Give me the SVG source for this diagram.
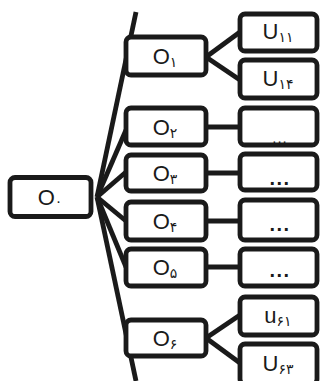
<svg xmlns="http://www.w3.org/2000/svg" width="321" height="381" viewBox="0 0 321 381">
<style>
.b{fill:#fff;stroke:#1a1a1a;stroke-width:4.8}
.c line{stroke:#1a1a1a;stroke-width:4.8;stroke-linecap:butt}
.t{font-family:"Liberation Sans","DejaVu Sans",sans-serif;font-size:22px;fill:#1a1a1a;text-anchor:middle}
.s{font-family:"DejaVu Sans",sans-serif;font-size:14px}
.d{font-family:"Liberation Sans",sans-serif;font-size:20px;fill:#1a1a1a;text-anchor:middle;font-weight:bold;letter-spacing:1.5px}
</style>
<rect width="321" height="381" fill="#fff"/>
<g class="c" id="connectors">
<line x1="97" y1="197" x2="136" y2="12"/>
<line x1="97" y1="197" x2="136" y2="381"/>
<line x1="97" y1="197" x2="126" y2="130"/>
<line x1="97" y1="197" x2="126" y2="172"/>
<line x1="97" y1="197" x2="126" y2="221"/>
<line x1="97" y1="197" x2="126" y2="267"/>
<line x1="206" y1="57" x2="240" y2="32"/>
<line x1="206" y1="57" x2="240" y2="80"/>
<line x1="206" y1="127" x2="240" y2="127"/>
<line x1="206" y1="173" x2="240" y2="173"/>
<line x1="206" y1="221" x2="240" y2="221"/>
<line x1="206" y1="267" x2="240" y2="267"/>
<line x1="206" y1="338" x2="240" y2="315"/>
<line x1="206" y1="338" x2="240" y2="363"/>
</g>
<g id="O0"><rect class="b" x="10" y="177.5" width="81" height="39" rx="5"/><text class="t" x="50" y="205">O<tspan class="s" dy="1">۰</tspan></text></g>
<g id="O1"><rect class="b" x="126" y="37" width="80" height="38" rx="5"/><text class="t" x="165" y="64">O<tspan class="s" dy="3">۱</tspan></text></g>
<g id="O2"><rect class="b" x="126" y="108" width="80" height="37" rx="5"/><text class="t" x="165" y="135">O<tspan class="s" dy="3">۲</tspan></text></g>
<g id="O3"><rect class="b" x="126" y="155" width="80" height="36" rx="5"/><text class="t" x="165" y="181">O<tspan class="s" dy="3">۳</tspan></text></g>
<g id="O4"><rect class="b" x="126" y="202" width="80" height="38" rx="5"/><text class="t" x="165" y="229">O<tspan class="s" dy="3">۴</tspan></text></g>
<g id="O5"><rect class="b" x="126" y="249" width="80" height="37" rx="5"/><text class="t" x="165" y="275">O<tspan class="s" dy="3">۵</tspan></text></g>
<g id="O6"><rect class="b" x="126" y="320" width="80" height="36" rx="5"/><text class="t" x="165" y="346">O<tspan class="s" dy="3">۶</tspan></text></g>
<g id="U11"><rect class="b" x="240" y="14" width="77" height="37" rx="5"/><text class="t" x="278" y="39">U<tspan class="s" dy="3">۱۱</tspan></text></g>
<g id="U14"><rect class="b" x="240" y="60" width="77" height="38" rx="5"/><text class="t" x="278" y="86">U<tspan class="s" dy="3">۱۴</tspan></text></g>
<g id="D2"><rect class="b" x="240" y="108" width="77" height="37" rx="5"/><text class="t" x="280" y="143" style="font-size:15px;letter-spacing:1px">...</text></g>
<g id="D3"><rect class="b" x="240" y="154" width="77" height="36" rx="5"/><text class="d" x="280" y="185">...</text></g>
<g id="D4"><rect class="b" x="240" y="200" width="77" height="40" rx="5"/><text class="d" x="280" y="231">...</text></g>
<g id="D5"><rect class="b" x="240" y="249" width="77" height="37" rx="5"/><text class="d" x="280" y="277">...</text></g>
<g id="U61"><rect class="b" x="240" y="297" width="77" height="38" rx="5"/><text class="t" x="278" y="323">u<tspan class="s" dy="3">۶۱</tspan></text></g>
<g id="U63"><rect class="b" x="240" y="344" width="77" height="40" rx="5"/><text class="t" x="278" y="371">U<tspan class="s" dy="3">۶۳</tspan></text></g>
</svg>
